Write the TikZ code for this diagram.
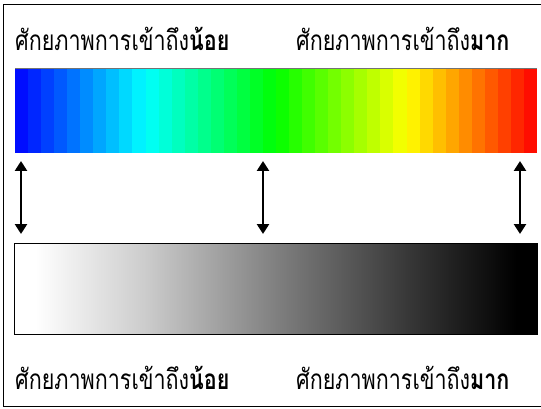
\documentclass[tikz,border=0pt]{standalone}
\usepackage{fontspec}
\newfontfamily\thaifont[Script=Thai]{Loma}
\usetikzlibrary{arrows.meta}
\pgfdeclarehorizontalshading{graysh}{100bp}{color(0bp)=(white); color(27bp)=(white); color(37.5bp)=(black!20); color(50bp)=(black!50); color(62.5bp)=(black!78); color(73bp)=(black); color(100bp)=(black)}
\newcommand\thaitxt[1]{\scalebox{1}[1.3]{#1}}
\tikzset{
  lbl/.style={font=\thaifont\fontsize{21.5}{24}\selectfont, inner sep=0pt, anchor=base west},
  biarrow/.style={line width=2.8pt, {Triangle[width=12pt,length=10pt]}-{Triangle[width=12pt,length=10pt]}},
  frame/.style={line width=1.5pt, draw=black}
}
\begin{document}
\begin{tikzpicture}[x=1pt,y=-1pt]
\useasboundingbox (0,0) rectangle (541,409);
\clip (0,0) rectangle (541,409);
\draw[frame] (3.5,4.5) rectangle (560,406.5);
% colour bar
\foreach \i in {0,...,39}{
  \pgfmathtruncatemacro\h{round(240*(1-(\i+0.5)/40))}
  \definecolor{bandc}{Hsb}{\h,1,1}
  \fill[bandc] ({15+\i*13.05},68) rectangle ({15+(\i+1)*13.05+0.3},153);
}
\node[minimum width=522pt, minimum height=85pt, inner sep=0pt, anchor=north west] (cb) at (15,68) {};
\draw[black!55, line width=0.6pt] (cb.north west) -- (cb.north east);
% gray bar
\node[minimum width=523pt, minimum height=91pt, inner sep=0pt, anchor=north west, shading=graysh, draw=black, line width=0.8pt] (gb) at (14,243) {};
% arrows
\coordinate (a1t) at (21,161); \coordinate (a1b) at (21,234);
\coordinate (a2t) at (263,161); \coordinate (a2b) at (263,234);
\coordinate (a3t) at (520,161); \coordinate (a3b) at (520,234);
\draw[biarrow] (a1t) -- (a1b);
\draw[biarrow] (a2t) -- (a2b);
\draw[biarrow] (a3t) -- (a3b);
% labels
\node[lbl] (tl) at (15,51) {\thaitxt{ศักยภาพการเข้าถึง\textbf{น้อย}}};
\node[lbl] (tr) at (296,51) {\thaitxt{ศักยภาพการเข้าถึง\textbf{มาก}}};
\node[lbl] (bl) at (15,389) {\thaitxt{ศักยภาพการเข้าถึง\textbf{น้อย}}};
\node[lbl] (br) at (296,389) {\thaitxt{ศักยภาพการเข้าถึง\textbf{มาก}}};
\end{tikzpicture}
\end{document}
